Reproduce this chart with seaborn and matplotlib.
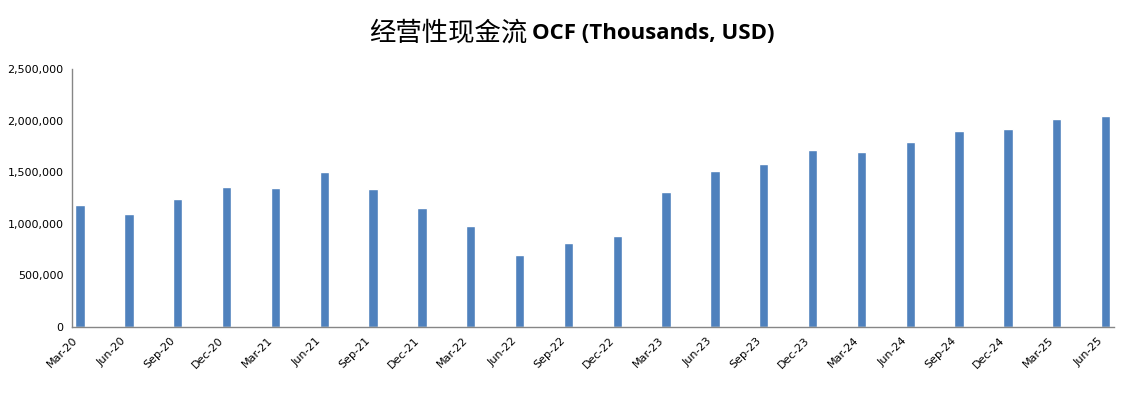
import numpy as np
import pandas as pd
import matplotlib.pyplot as plt
import seaborn as sns
from matplotlib.ticker import FuncFormatter

quarters = ['Mar-20', 'Jun-20', 'Sep-20', 'Dec-20', 'Mar-21', 'Jun-21', 'Sep-21', 'Dec-21',
            'Mar-22', 'Jun-22', 'Sep-22', 'Dec-22', 'Mar-23', 'Jun-23', 'Sep-23', 'Dec-23',
            'Mar-24', 'Jun-24', 'Sep-24', 'Dec-24', 'Mar-25', 'Jun-25']
ocf = [1183000, 1096000, 1241000, 1358000, 1348000, 1503000, 1338000, 1154000,
       980000, 699000, 815000, 883000, 1310000, 1513000, 1581000, 1717000,
       1697000, 1794000, 1901000, 1920000, 2017000, 2046000]

# Excel-style date axis with monthly base unit: each bar sits mid-month
dates = pd.to_datetime(quarters, format='%b-%y')
month_idx = (dates.year - 2020) * 12 + dates.month - 3
data = pd.DataFrame({'month': month_idx + 0.5, 'OCF': ocf})

sns.set_style('white')
plt.rcParams['font.family'] = ['DejaVu Sans']

fig = plt.figure(figsize=(11.25, 3.93), dpi=100)
ax = fig.add_axes([0.064, 0.168, 0.926, 0.656])

sns.barplot(data=data, x='month', y='OCF', native_scale=True, color='#4F81BD',
            saturation=1, width=0.19, ax=ax)

ax.set_xlim(0, month_idx.max() + 1)
ax.set_ylim(0, 2500000)
ax.set_yticks(np.arange(0, 2500001, 500000))
ax.yaxis.set_major_formatter(FuncFormatter(lambda v, p: f'{int(v):,}'))
ax.set_xticks(month_idx)
ax.set_xticklabels(quarters, rotation=45, ha='right', rotation_mode='anchor')

for side in ['top', 'right']:
    ax.spines[side].set_visible(False)
for side in ['left', 'bottom']:
    ax.spines[side].set_color('#868686')
    ax.spines[side].set_linewidth(1)
ax.tick_params(axis='both', direction='out', length=4, width=1, color='#868686',
               labelsize=8, labelcolor='black', pad=2)
ax.set_xlabel('')
ax.set_ylabel('')

fig.text(0.469, 0.915, '经营性现金流', ha='right', va='center', fontsize=19,
         color='black', family=['Noto Sans CJK SC', 'DejaVu Sans'])
fig.text(0.473, 0.915, 'OCF (Thousands, USD)', ha='left', va='center', fontsize=16,
         color='black', fontweight='bold', family=['Open Sans', 'DejaVu Sans'])

fig.savefig('out.png', dpi=100)
